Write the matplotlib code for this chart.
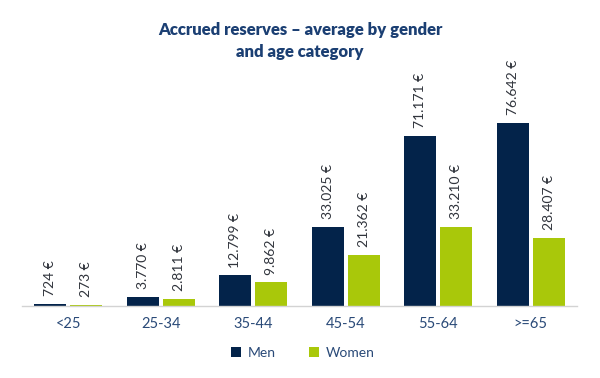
import matplotlib

matplotlib.use("Agg")

import matplotlib.pyplot as plt
import numpy as np

categories = ["<25", "25-34", "35-44", "45-54", "55-64", ">=65"]
men = [724, 3770, 12799, 33025, 71171, 76642]
women = [273, 2811, 9862, 21362, 33210, 28407]
men_labels = ["724 €", "3.770 €", "12.799 €", "33.025 €", "71.171 €", "76.642 €"]
women_labels = ["273 €", "2.811 €", "9.862 €", "21.362 €", "33.210 €", "28.407 €"]

C_MEN = "#03234a"
C_WOMEN = "#a9c80a"
C_TITLE = "#1b3f73"
C_LABEL = "#30343c"
C_TICK = "#2a4a78"

W, H = 600, 378
fig = plt.figure(figsize=(W / 100, H / 100), dpi=100)
plt.rcParams["font.family"] = ["Lato", "DejaVu Sans"]

# axes placed in pixel coords: x 22..577, baseline at y=306 from top
ax = fig.add_axes([22 / W, (H - 306) / H, 555 / W, 215 / H])
x = np.arange(len(categories))
bw = 0.345
off = 0.195
ax.bar(x - off, men, bw, color=C_MEN, label="Men")
ax.bar(x + off, women, bw, color=C_WOMEN, label="Women")

ax.set_xlim(-0.5, len(categories) - 0.5)
ax.set_ylim(0, 76642 * 215 / 183)

pad = 3300
for xi, v, t in zip(x - off, men, men_labels):
    ax.text(xi, v + pad, t, rotation=90, ha="center", va="bottom",
            fontsize=10, color=C_LABEL, clip_on=False)
for xi, v, t in zip(x + off, women, women_labels):
    ax.text(xi, v + pad, t, rotation=90, ha="center", va="bottom",
            fontsize=10, color=C_LABEL, clip_on=False)

for s in ["top", "right", "left"]:
    ax.spines[s].set_visible(False)
ax.spines["bottom"].set_color("#d3d3d3")
ax.spines["bottom"].set_linewidth(1.0)
ax.set_yticks([])
ax.set_xticks(x)
ax.set_xticklabels(categories, fontsize=10.5, color=C_TICK)
ax.tick_params(axis="x", length=0, pad=8)

fig.text(0.5, 1 - 41 / H, "Accrued reserves – average by gender\nand age category",
         ha="center", va="center", fontsize=12, fontweight="heavy",
         color=C_TITLE, linespacing=1.4)

fig.legend(loc="center", bbox_to_anchor=(303 / W, 1 - 353 / H), ncol=2,
           frameon=False, fontsize=10, handlelength=0.7, handleheight=0.7,
           columnspacing=2.4, handletextpad=0.5, labelcolor=C_TICK)

fig.savefig("out.png", dpi=100, facecolor="white")
